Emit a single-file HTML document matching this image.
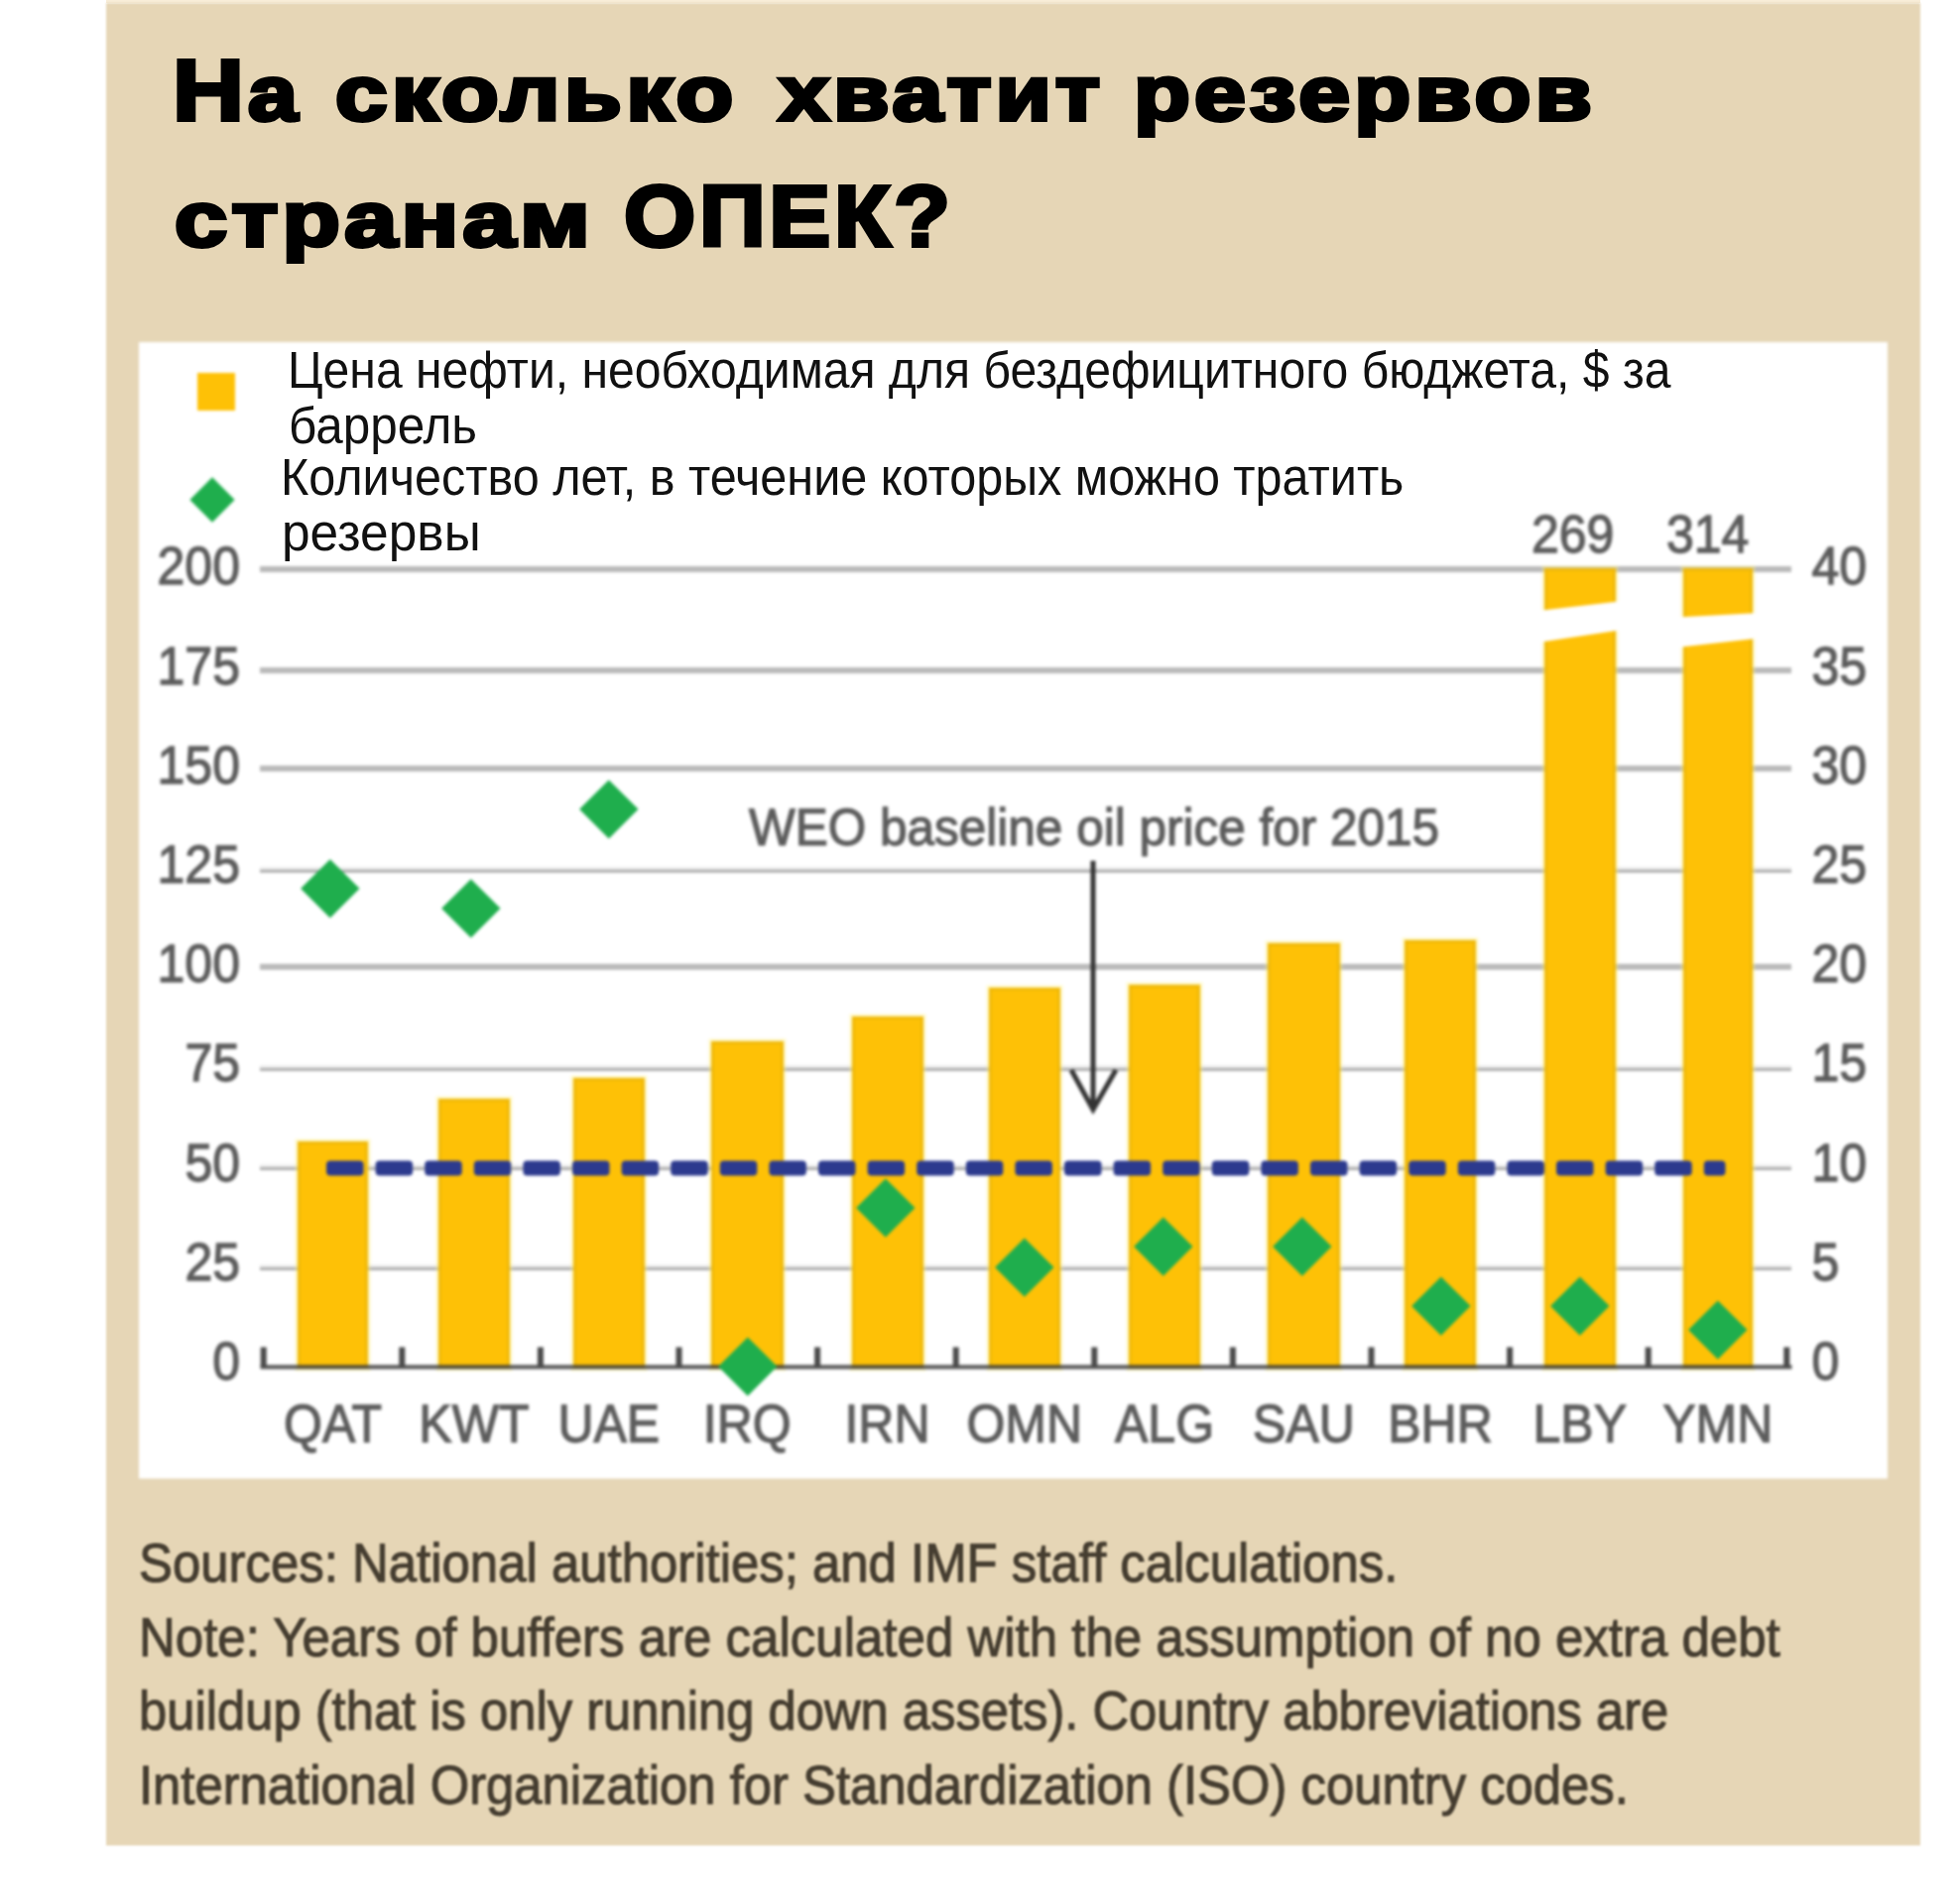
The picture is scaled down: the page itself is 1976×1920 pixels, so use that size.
<!DOCTYPE html>
<html lang="ru"><head><meta charset="utf-8"><title>На сколько хватит резервов странам ОПЕК?</title>
<style>
html,body{margin:0;padding:0;background:#fff;}
body{width:1976px;height:1920px;position:relative;overflow:hidden;font-family:"Liberation Sans",sans-serif;}
.abs{position:absolute;}
#panel{left:107px;top:3px;width:1829px;height:1858px;background:#e6d6b6;filter:blur(1.2px);}
#topstripe{left:107px;top:0;width:1829px;height:3px;background:#f8edd8;}
#white{left:140px;top:344.5px;width:1763px;height:1146.5px;background:#fff;}
#chart{left:0;top:0;width:1976px;height:1920px;filter:blur(1.5px);}
.grid{background:#b9b9b9;left:262px;width:1544px;}
.halo{background:#efefef;left:262px;width:1544px;height:3px;}
.bar{background:#fec106;box-shadow:0 0 0 2.5px rgba(255,238,120,0.38), inset 0 0 0 3px rgba(180,150,20,0.2);}
.lab{color:#5c5c5c;font-size:50px;line-height:50px;white-space:nowrap;transform:scaleY(1.06);-webkit-text-stroke:1.2px #5c5c5c;}
.ll{text-align:right;width:130px;left:112px;}
.rl{text-align:left;left:1826.5px;}
.xl{text-align:center;width:160px;}
.dia{width:41.6px;height:41.6px;background:#1fae4d;transform:rotate(45deg);}
.tw{position:absolute;font:700 78.6px/100px "Liberation Sans",sans-serif;-webkit-text-stroke:4px #000;white-space:nowrap;color:#000;letter-spacing:3.5px;transform-origin:0 0;}
.tw .c{font-size:87.2px;}
.leg{color:#111;font-size:48px;line-height:56.6px;white-space:nowrap;transform-origin:0 44.2px;}
#foot{left:140px;top:1540px;color:#453d30;font-size:51px;line-height:74.6px;white-space:nowrap;filter:blur(1.3px);-webkit-text-stroke:1px #453d30;}
#foot span{display:block;height:74.6px;transform:scaleY(1.07);transform-origin:0 50%;}
</style></head><body>

<div class="abs" id="topstripe"></div>
<div class="abs" id="panel"></div>
<div class="abs" id="chart">
<div class="abs" id="white"></div>
<div class="abs halo" style="top:1275.0px"></div>
<div class="abs grid" style="top:1277.8px;height:3.1px;background:#adadad"></div>
<div class="abs halo" style="top:1173.7px"></div>
<div class="abs grid" style="top:1176.5px;height:3.1px;background:#adadad"></div>
<div class="abs halo" style="top:1074.0px"></div>
<div class="abs grid" style="top:1076.8px;height:3.1px;background:#adadad"></div>
<div class="abs grid" style="top:972.2px;height:6.0px"></div>
<div class="abs halo" style="top:873.9px"></div>
<div class="abs grid" style="top:876.7px;height:3.1px;background:#adadad"></div>
<div class="abs grid" style="top:771.9px;height:6.0px"></div>
<div class="abs grid" style="top:672.9px;height:5.8px"></div>
<div class="abs grid" style="top:571.0px;height:6.0px"></div>
<div class="abs bar" style="left:300.3px;top:1151.0px;width:70.5px;height:229.0px"></div>
<div class="abs bar" style="left:441.7px;top:1108.0px;width:72.3px;height:272.0px"></div>
<div class="abs bar" style="left:578.0px;top:1087.0px;width:71.5px;height:293.0px"></div>
<div class="abs bar" style="left:717.0px;top:1050.0px;width:72.5px;height:330.0px"></div>
<div class="abs bar" style="left:858.5px;top:1025.0px;width:72.0px;height:355.0px"></div>
<div class="abs bar" style="left:997.0px;top:996.0px;width:71.6px;height:384.0px"></div>
<div class="abs bar" style="left:1138.0px;top:993.0px;width:72.0px;height:387.0px"></div>
<div class="abs bar" style="left:1278.0px;top:951.0px;width:73.0px;height:429.0px"></div>
<div class="abs bar" style="left:1416.0px;top:948.0px;width:72.0px;height:432.0px"></div>
<div class="abs bar" style="left:1556.5px;top:573.0px;width:72.5px;height:807.0px"></div>
<div class="abs bar" style="left:1697.0px;top:573.0px;width:69.5px;height:807.0px"></div>
<svg class="abs" style="left:0;top:0" width="1976" height="1920" viewBox="0 0 1976 1920">
<polygon points="1550,616 1636,606 1636,635 1550,648" fill="#fff"/>
<polygon points="1690,622.5 1774,618 1774,643.5 1690,653" fill="#fff"/>
<rect x="262.5" y="1376.4" width="1544" height="4.2" fill="#3c3c3c" fill-opacity="0.85"/>
<rect x="262.7" y="1358.5" width="6" height="20" fill="#4a4a4a"/>
<rect x="402.3" y="1358.5" width="6" height="20" fill="#4a4a4a"/>
<rect x="541.9" y="1358.5" width="6" height="20" fill="#4a4a4a"/>
<rect x="681.5" y="1358.5" width="6" height="20" fill="#4a4a4a"/>
<rect x="821.1" y="1358.5" width="6" height="20" fill="#4a4a4a"/>
<rect x="960.7" y="1358.5" width="6" height="20" fill="#4a4a4a"/>
<rect x="1100.3" y="1358.5" width="6" height="20" fill="#4a4a4a"/>
<rect x="1239.9" y="1358.5" width="6" height="20" fill="#4a4a4a"/>
<rect x="1379.5" y="1358.5" width="6" height="20" fill="#4a4a4a"/>
<rect x="1519.1" y="1358.5" width="6" height="20" fill="#4a4a4a"/>
<rect x="1658.7" y="1358.5" width="6" height="20" fill="#4a4a4a"/>
<rect x="1798.3" y="1358.5" width="6" height="20" fill="#4a4a4a"/>
<rect x="329.0" y="1170.6" width="37.5" height="15" rx="4" ry="4" fill="#2c3a8e"/>
<rect x="378.6" y="1170.6" width="37.5" height="15" rx="4" ry="4" fill="#2c3a8e"/>
<rect x="428.2" y="1170.6" width="37.5" height="15" rx="4" ry="4" fill="#2c3a8e"/>
<rect x="477.8" y="1170.6" width="37.5" height="15" rx="4" ry="4" fill="#2c3a8e"/>
<rect x="527.4" y="1170.6" width="37.5" height="15" rx="4" ry="4" fill="#2c3a8e"/>
<rect x="577.0" y="1170.6" width="37.5" height="15" rx="4" ry="4" fill="#2c3a8e"/>
<rect x="626.6" y="1170.6" width="37.5" height="15" rx="4" ry="4" fill="#2c3a8e"/>
<rect x="676.2" y="1170.6" width="37.5" height="15" rx="4" ry="4" fill="#2c3a8e"/>
<rect x="725.8" y="1170.6" width="37.5" height="15" rx="4" ry="4" fill="#2c3a8e"/>
<rect x="775.4" y="1170.6" width="37.5" height="15" rx="4" ry="4" fill="#2c3a8e"/>
<rect x="825.0" y="1170.6" width="37.5" height="15" rx="4" ry="4" fill="#2c3a8e"/>
<rect x="874.6" y="1170.6" width="37.5" height="15" rx="4" ry="4" fill="#2c3a8e"/>
<rect x="924.2" y="1170.6" width="37.5" height="15" rx="4" ry="4" fill="#2c3a8e"/>
<rect x="973.8" y="1170.6" width="37.5" height="15" rx="4" ry="4" fill="#2c3a8e"/>
<rect x="1023.4" y="1170.6" width="37.5" height="15" rx="4" ry="4" fill="#2c3a8e"/>
<rect x="1073.0" y="1170.6" width="37.5" height="15" rx="4" ry="4" fill="#2c3a8e"/>
<rect x="1122.6" y="1170.6" width="37.5" height="15" rx="4" ry="4" fill="#2c3a8e"/>
<rect x="1172.2" y="1170.6" width="37.5" height="15" rx="4" ry="4" fill="#2c3a8e"/>
<rect x="1221.8" y="1170.6" width="37.5" height="15" rx="4" ry="4" fill="#2c3a8e"/>
<rect x="1271.4" y="1170.6" width="37.5" height="15" rx="4" ry="4" fill="#2c3a8e"/>
<rect x="1321.0" y="1170.6" width="37.5" height="15" rx="4" ry="4" fill="#2c3a8e"/>
<rect x="1370.6" y="1170.6" width="37.5" height="15" rx="4" ry="4" fill="#2c3a8e"/>
<rect x="1420.2" y="1170.6" width="37.5" height="15" rx="4" ry="4" fill="#2c3a8e"/>
<rect x="1469.8" y="1170.6" width="37.5" height="15" rx="4" ry="4" fill="#2c3a8e"/>
<rect x="1519.4" y="1170.6" width="37.5" height="15" rx="4" ry="4" fill="#2c3a8e"/>
<rect x="1569.0" y="1170.6" width="37.5" height="15" rx="4" ry="4" fill="#2c3a8e"/>
<rect x="1618.6" y="1170.6" width="37.5" height="15" rx="4" ry="4" fill="#2c3a8e"/>
<rect x="1668.2" y="1170.6" width="37.5" height="15" rx="4" ry="4" fill="#2c3a8e"/>
<rect x="1717.8" y="1170.6" width="21.7" height="15" rx="4" ry="4" fill="#2c3a8e"/>
<path d="M1102 868 V1118 M1080 1079 L1102 1119 L1125 1079" stroke="#333" stroke-width="5" fill="none"/>
</svg>
<div class="abs dia" style="left:312.2px;top:874.7px"></div>
<div class="abs dia" style="left:453.7px;top:894.9px"></div>
<div class="abs dia" style="left:593.2px;top:795.2px"></div>
<div class="abs dia" style="left:732.9px;top:1357.2px"></div>
<div class="abs dia" style="left:872.2px;top:1196.9px"></div>
<div class="abs dia" style="left:1011.7px;top:1257.2px"></div>
<div class="abs dia" style="left:1152.2px;top:1236.2px"></div>
<div class="abs dia" style="left:1292.2px;top:1236.2px"></div>
<div class="abs dia" style="left:1431.9px;top:1295.7px"></div>
<div class="abs dia" style="left:1572.2px;top:1295.7px"></div>
<div class="abs dia" style="left:1710.7px;top:1320.2px"></div>
<div class="abs lab ll" style="top:1347.9px">0</div>
<div class="abs lab ll" style="top:1247.7px">25</div>
<div class="abs lab ll" style="top:1147.5px">50</div>
<div class="abs lab ll" style="top:1047.3px">75</div>
<div class="abs lab ll" style="top:947.1px">100</div>
<div class="abs lab ll" style="top:846.9px">125</div>
<div class="abs lab ll" style="top:746.7px">150</div>
<div class="abs lab ll" style="top:646.5px">175</div>
<div class="abs lab ll" style="top:546.3px">200</div>
<div class="abs lab rl" style="top:1347.9px">0</div>
<div class="abs lab rl" style="top:1247.7px">5</div>
<div class="abs lab rl" style="top:1147.5px">10</div>
<div class="abs lab rl" style="top:1047.3px">15</div>
<div class="abs lab rl" style="top:947.1px">20</div>
<div class="abs lab rl" style="top:846.9px">25</div>
<div class="abs lab rl" style="top:746.7px">30</div>
<div class="abs lab rl" style="top:646.5px">35</div>
<div class="abs lab rl" style="top:546.3px">40</div>
<div class="abs lab xl" style="left:255.6px;top:1411px">QAT</div>
<div class="abs lab xl" style="left:397.9px;top:1411px">KWT</div>
<div class="abs lab xl" style="left:533.8px;top:1411px">UAE</div>
<div class="abs lab xl" style="left:673.2px;top:1411px">IRQ</div>
<div class="abs lab xl" style="left:814.5px;top:1411px">IRN</div>
<div class="abs lab xl" style="left:952.8px;top:1411px">OMN</div>
<div class="abs lab xl" style="left:1094.0px;top:1411px">ALG</div>
<div class="abs lab xl" style="left:1234.5px;top:1411px">SAU</div>
<div class="abs lab xl" style="left:1372.0px;top:1411px">BHR</div>
<div class="abs lab xl" style="left:1512.8px;top:1411px">LBY</div>
<div class="abs lab xl" style="left:1651.8px;top:1411px">YMN</div>
<div class="abs lab" style="left:1544px;top:514px">269</div>
<div class="abs lab" style="left:1680px;top:514px">314</div>
<div class="abs lab" style="left:755px;top:808.5px;font-size:49.5px">WEO baseline oil price for 2015</div>
<div class="abs" style="left:199px;top:376px;width:38px;height:38px;background:#fec106"></div>
<div class="abs" style="left:198px;top:488px;width:32px;height:32px;background:#1fae4d;transform:rotate(45deg)"></div>
</div>
<div id="title">
<span class="tw" style="left:173.8px;top:40.7px;transform:scaleX(1.1422)"><span class="c">Н</span>а</span> 
<span class="tw" style="left:338.4px;top:43.7px;transform:scaleX(1.2024)">сколько</span> 
<span class="tw" style="left:785.4px;top:43.7px;transform:scaleX(1.1675)">хватит</span> 
<span class="tw" style="left:1142.5px;top:43.7px;transform:scaleX(1.1855)">резервов</span> 
<span class="tw" style="left:175.9px;top:170.5px;transform:scaleX(1.2165)">странам</span> 
<span class="tw" style="left:629.3px;top:167.5px;transform:scaleX(1.0645)"><span class="c">ОПЕК?</span></span> 
</div>
<div id="legend">
<div class="abs leg" style="left:289.5px;top:347.2px;transform:scale(1.0021,1.08)">Цена нефти, необходимая для бездефицитного бюджета, $ за</div>
<div class="abs leg" style="left:291.1px;top:402.9px;transform:scale(1.0300,1.08)">баррель</div>
<div class="abs leg" style="left:283.1px;top:455.4px;transform:scale(1.0113,1.08)">Количество лет, в течение которых можно тратить</div>
<div class="abs leg" style="left:283.8px;top:511.1px;transform:scale(1.0720,1.08)">резервы</div>
</div>
<div class="abs" id="foot"><span style="transform:scale(0.998,1.07)">Sources: National authorities; and IMF staff calculations.</span><span>Note: Years of buffers are calculated with the assumption of no extra debt</span><span style="transform:scale(0.9946,1.07)">buildup (that is only running down assets). Country abbreviations are</span><span style="transform:scale(0.9958,1.07)">International Organization for Standardization (ISO) country codes.</span></div>
</body></html>
